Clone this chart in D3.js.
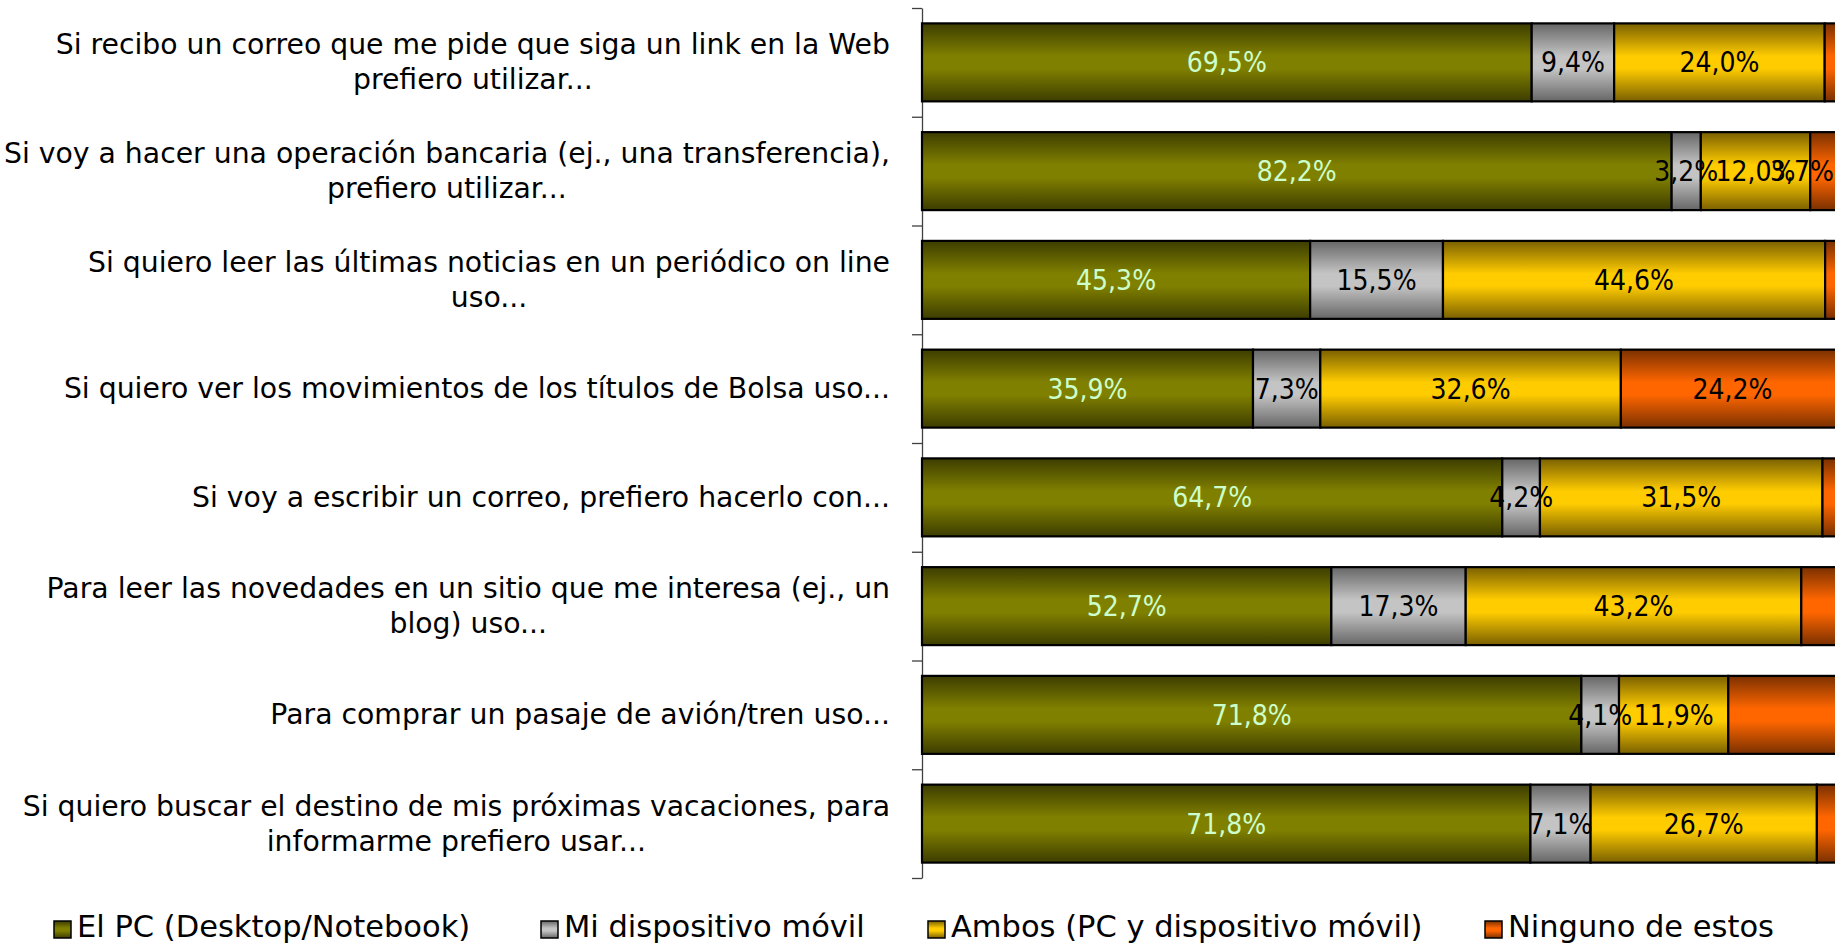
<!DOCTYPE html>
<html>
<head>
<meta charset="utf-8">
<script src="https://cdn.jsdelivr.net/npm/d3@7"></script>
<style>
  html, body { margin: 0; padding: 0; background: #fff; overflow: hidden; }
  svg { display: block; font-family: "DejaVu Sans", sans-serif; }
</style>
</head>
<body>
<div id="host"></div>
<script>
// categories, top to bottom (line breaks as in the picture)
const categories = [
  ['Si recibo un correo que me pide que siga un link en la Web', 'prefiero utilizar...'],
  ['Si voy a hacer una operación bancaria (ej., una transferencia),', 'prefiero utilizar...'],
  ['Si quiero leer las últimas noticias en un periódico on line', 'uso...'],
  ['Si quiero ver los movimientos de los títulos de Bolsa uso...'],
  ['Si voy a escribir un correo, prefiero hacerlo con...'],
  ['Para leer las novedades en un sitio que me interesa (ej., un', 'blog) uso...'],
  ['Para comprar un pasaje de avión/tren uso...'],
  ['Si quiero buscar el destino de mis próximas vacaciones, para', 'informarme prefiero usar...']
];
const seriesNames = ['El PC (Desktop/Notebook)', 'Mi dispositivo móvil', 'Ambos (PC y dispositivo móvil)', 'Ninguno de estos'];
const elPC     = [69.5, 82.2, 45.3, 35.9, 64.7, 52.7, 71.8, 71.8];
const movil    = [9.4, 3.2, 15.5, 7.3, 4.2, 17.3, 4.1, 7.1];
const ambos    = [24.0, 12.0, 44.6, 32.6, 31.5, 43.2, 11.9, 26.7];
const ninguno  = [2.2, 3.7, 2.2, 24.2, 2.4, 5.5, 12.6, 3.2];
// only these "Ninguno" labels are shown in the picture
const ningunoLabelShown = [false, true, false, true, false, false, false, false];

const W = 1835, H = 943;
const margin = { top: 8, right: -9, bottom: 65, left: 922 };
const innerW = W - margin.left - margin.right;
const innerH = H - margin.top - margin.bottom;

const keys = ['pc', 'movil', 'ambos', 'ninguno'];
const rows = categories.map((c, i) => ({ i, pc: elPC[i], movil: movil[i], ambos: ambos[i], ninguno: ninguno[i] }));
const stacked = d3.stack().keys(keys).offset(d3.stackOffsetExpand)(rows);

const grads = [
  { dark: '#3d3d00', light: '#808000', text: '#ccffcc' },
  { dark: '#666666', light: '#c4c4c4', text: '#000' },
  { dark: '#7a6000', light: '#ffcc00', text: '#000' },
  { dark: '#7a3000', light: '#ff6600', text: '#000' }
];

const svg = d3.select('#host').append('svg').attr('width', W).attr('height', H);
const defs = svg.append('defs');
grads.forEach((g, k) => {
  const lg = defs.append('linearGradient').attr('id', 'g' + k)
    .attr('x1', 0).attr('y1', 0).attr('x2', 0).attr('y2', 1);
  lg.append('stop').attr('offset', 0).attr('stop-color', g.dark);
  lg.append('stop').attr('offset', 0.42).attr('stop-color', g.light);
  lg.append('stop').attr('offset', 0.58).attr('stop-color', g.light);
  lg.append('stop').attr('offset', 1).attr('stop-color', g.dark);
});

const x = d3.scaleLinear().domain([0, 1]).range([0, innerW]);
const y = d3.scaleBand().domain(d3.range(categories.length)).range([0, innerH]).paddingInner(0.283).paddingOuter(0.1415);
const yEdge = d3.scaleLinear().domain([0, categories.length]).range([0, innerH]);

const g = svg.append('g').attr('transform', `translate(${margin.left},${margin.top})`);

// axis with ticks between categories
const ax = g.append('g').call(d3.axisLeft(yEdge).tickValues(d3.range(categories.length + 1)).tickFormat('').tickSizeInner(10).tickSizeOuter(0));
ax.select('.domain').attr('stroke', '#404040').attr('stroke-width', 1.3);
ax.selectAll('.tick line').attr('stroke', '#404040').attr('stroke-width', 1.3);

// category labels: block right-aligned, lines centred inside the block
const lineH = 35;
categories.forEach((lines, i) => {
  const cy = y(i) + y.bandwidth() / 2;
  const t = g.append('text').attr('text-anchor', 'middle').attr('font-size', 28.3).attr('fill', '#000');
  const spans = lines.map((ln, j) => t.append('tspan')
    .attr('y', cy + 9.5 + (j - (lines.length - 1) / 2) * lineH)
    .text(ln));
  const maxW = d3.max(spans, s => s.node().getComputedTextLength());
  spans.forEach(s => s.attr('x', -32 - maxW / 2));
});

// bars
const layers = g.selectAll('.layer').data(stacked).join('g').attr('class', 'layer');
layers.selectAll('rect').data(d => d).join('rect')
  .attr('x', d => x(d[0]))
  .attr('y', d => y(d.data.i))
  .attr('width', d => x(d[1]) - x(d[0]))
  .attr('height', y.bandwidth())
  .attr('fill', (d, i, n) => `url(#g${keys.indexOf(d3.select(n[i].parentNode).datum().key)})`)
  .attr('stroke', '#000').attr('stroke-width', 2.2);

// value labels
const fmt = d3.formatLocale({ decimal: ',', thousands: '.', grouping: [3], currency: ['', '€'] }).format('.1f');
stacked.forEach((layer, k) => {
  layer.forEach(d => {
    const i = d.data.i;
    if (keys[k] === 'ninguno' && !ningunoLabelShown[i]) return;
    const t = g.append('text')
      .attr('text-anchor', 'middle')
      .attr('font-family', '"DejaVu Sans Condensed", "DejaVu Sans", sans-serif')
      .attr('font-size', 28)
      .attr('fill', grads[k].text)
      .attr('y', y(i) + y.bandwidth() / 2 + 10)
      .text(fmt(d.data[keys[k]]) + '%');
    const cx = (x(d[0]) + x(d[1])) / 2;
    const half = t.node().getComputedTextLength() / 2;
    t.attr('x', Math.min(cx, W - margin.left - half - 1));
  });
});

// legend
const legendX = [54, 541, 928, 1485];
const legend = svg.append('g').attr('transform', 'translate(0,921)');
seriesNames.forEach((name, k) => {
  const it = legend.append('g').attr('transform', `translate(${legendX[k]},0)`);
  it.append('rect').attr('width', 17).attr('height', 17)
    .attr('fill', `url(#g${k})`).attr('stroke', '#000').attr('stroke-width', 1.5);
  it.append('text').attr('x', 23).attr('y', 16).attr('font-size', 30.5).attr('fill', '#000').text(name);
});
</script>
</body>
</html>
